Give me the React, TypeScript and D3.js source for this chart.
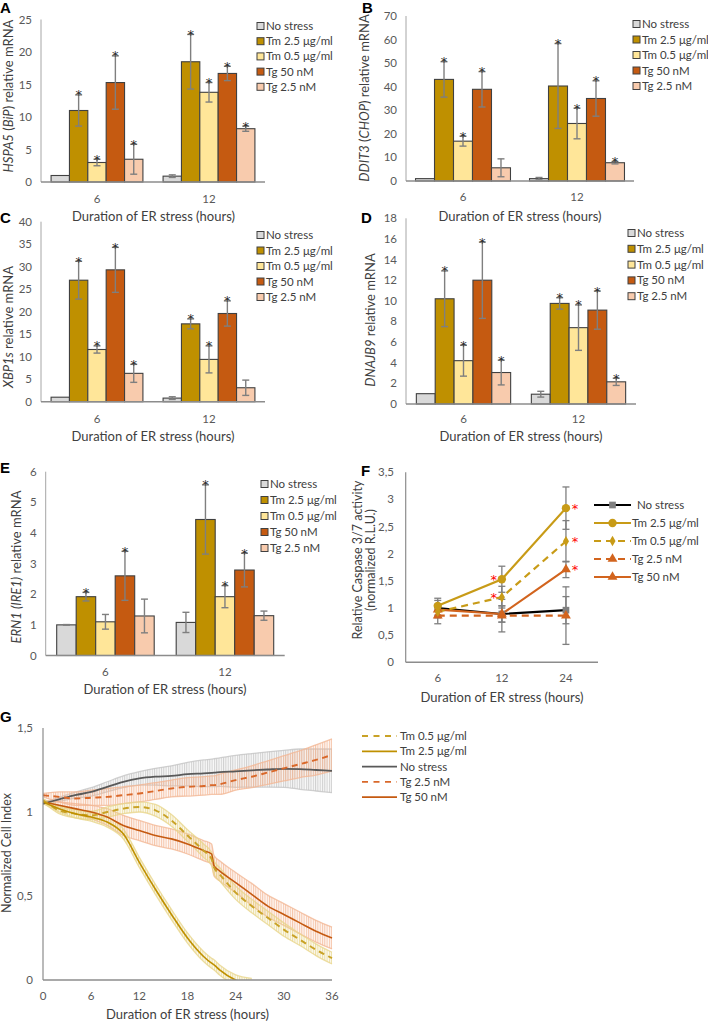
import React from 'react';
import * as d3 from 'd3';

// ---------- data ----------
const categories = ['6', '12'];
const seriesNames = ['No stress', 'Tm 2.5 μg/ml', 'Tm 0.5 μg/ml', 'Tg 50 nM', 'Tg 2.5 nM'];
const barColors = ['#D9D9D9', '#BF9000', '#FFE699', '#C55A11', '#F8CBAD'];

// values per series: [6 h, 12 h]
const aValues = [[1.0, 0.9], [11.0, 18.5], [3.0, 13.8], [15.3, 16.7], [3.5, 8.2]];
const aErrors = [[0, 0.2], [2.4, 4.2], [0.5, 1.5], [4.1, 1.1], [2.3, 0.4]];
const aStars = [[0, 0], [1, 1], [1, 1], [1, 1], [1, 1]];

const bValues = [[1.0, 1.0], [43.1, 40.3], [16.9, 24.4], [38.9, 35.0], [5.6, 7.75]];
const bErrors = [[0, 0.5], [7.5, 18.0], [2.1, 6.5], [7.5, 7.5], [3.8, 0.5]];
const bStars = [[0, 0], [1, 1], [1, 1], [1, 1], [0, 1]];

const cValues = [[1.0, 0.8], [27.0, 17.3], [11.6, 9.4], [29.3, 19.6], [6.3, 3.1]];
const cErrors = [[0, 0.3], [4.2, 1.1], [0.8, 3.0], [5.0, 2.8], [2.0, 1.7]];
const cStars = [[0, 0], [1, 1], [1, 1], [1, 1], [1, 0]];

const dValues = [[1.0, 0.95], [10.2, 9.75], [4.2, 7.4], [12.0, 9.1], [3.05, 2.15]];
const dErrors = [[0, 0.28], [2.7, 0.55], [1.5, 2.2], [3.7, 1.85], [1.2, 0.35]];
const dStars = [[0, 0], [1, 1], [1, 1], [1, 1], [1, 1]];

const eValues = [[1.0, 1.08], [1.92, 4.44], [1.1, 1.92], [2.6, 2.79], [1.29, 1.3]];
const eErrors = [[0.01, 0.33], [0.14, 1.13], [0.24, 0.36], [0.8, 0.55], [0.55, 0.15]];
const eStars = [[0, 0], [1, 1], [0, 1], [1, 1], [0, 0]];

// panel F: caspase activity
const fCategories = ['6', '12', '24'];
const fNames = ['No stress', 'Tm 2.5 μg/ml', 'Tm 0.5 μg/ml', 'Tg 2.5 nM', 'Tg 50 nM'];
const fValues = [[1.0, 0.89, 0.96], [1.04, 1.53, 2.84], [0.93, 1.2, 2.23], [0.86, 0.86, 0.86], [0.97, 0.89, 1.71]];
const fErrors = [[0.18, 0.15, 0.25], [0.1, 0.24, 0.39], [0.08, 0.2, 0.38], [0.15, 0.3, 0.53], [0.1, 0.15, 0.15]];
const fStars = [[0, 0, 0], [0, 1, 1], [0, 1, 1], [0, 0, 0], [0, 0, 1]];

// panel G: cell index
const gTimes = [0, 2, 4, 6, 8, 10, 12, 14, 16, 18, 20, 21, 21.3, 22, 24, 26, 28, 30, 32, 34, 36];
const gNames = ['Tm 0.5 μg/ml', 'Tm 2.5 μg/ml', 'No stress', 'Tg 2.5 nM', 'Tg 50 nM'];
const gTm05 = [1.07, 1.01, 0.99, 0.98, 1.0, 1.02, 1.03, 1.01, 0.95, 0.86, 0.77, 0.72, 0.67, 0.63, 0.52, 0.44, 0.37, 0.3, 0.24, 0.18, 0.13];
const gTm05Err = [0.01, 0.02, 0.025, 0.025, 0.03, 0.03, 0.03, 0.035, 0.035, 0.035, 0.04, 0.04, 0.04, 0.04, 0.04, 0.04, 0.04, 0.04, 0.035, 0.035, 0.035];
const gTm25 = [1.06, 1.02, 0.99, 0.97, 0.94, 0.87, 0.7, 0.54, 0.39, 0.25, 0.14, 0.1, 0.09, 0.06, 0.0, -0.02, null, null, null, null, null];
const gTm25Err = [0.01, 0.02, 0.025, 0.025, 0.03, 0.03, 0.03, 0.03, 0.03, 0.03, 0.03, 0.03, 0.03, 0.03, 0.03, 0.03, 0, 0, 0, 0, 0];
const gNS = [1.05, 1.075, 1.1, 1.12, 1.15, 1.18, 1.2, 1.21, 1.215, 1.225, 1.23, 1.233, 1.234, 1.237, 1.242, 1.248, 1.253, 1.257, 1.255, 1.25, 1.245];
const gNSErr = [0.005, 0.012, 0.018, 0.025, 0.03, 0.035, 0.04, 0.05, 0.06, 0.07, 0.08, 0.082, 0.083, 0.085, 0.095, 0.1, 0.105, 0.11, 0.12, 0.125, 0.13];
const gTg25 = [1.1, 1.09, 1.08, 1.085, 1.09, 1.1, 1.11, 1.125, 1.14, 1.15, 1.155, 1.16, 1.16, 1.165, 1.19, 1.21, 1.235, 1.26, 1.285, 1.31, 1.34];
const gTg25Err = [0.01, 0.03, 0.04, 0.045, 0.05, 0.05, 0.05, 0.05, 0.05, 0.055, 0.055, 0.055, 0.055, 0.06, 0.06, 0.065, 0.07, 0.075, 0.08, 0.09, 0.095];
const gTg50 = [1.06, 1.04, 1.02, 1.0, 0.97, 0.92, 0.89, 0.86, 0.84, 0.81, 0.77, 0.75, 0.68, 0.65, 0.58, 0.51, 0.44, 0.39, 0.34, 0.29, 0.25];
const gTg50Err = [0.01, 0.02, 0.03, 0.04, 0.05, 0.06, 0.06, 0.06, 0.06, 0.06, 0.06, 0.06, 0.06, 0.06, 0.06, 0.065, 0.065, 0.065, 0.065, 0.065, 0.065];
const gXTicks = [0, 6, 12, 18, 24, 30, 36];
const gYTicks = [0, 0.5, 1, 1.5];

// ---------- styles ----------
const FONT = "Lato, 'Open Sans', sans-serif";
const LETTER_FONT = "'Liberation Sans', Arial, sans-serif";
const STAR_FONT = "'DejaVu Sans', sans-serif";
const TXT = '#404040';
const TICK = '#595959';
const ERR = '#7F7F7F';
const GOLD = '#C89B17';
const ORANGE = '#D2641E';
const comma = (v: number) => String(v).replace('.', ',');

function BarPanel(p: any) {
  const x = d3.scaleBand<string>().domain(categories).range([p.x0, p.x1]).paddingInner(p.pad).paddingOuter(p.pad / 2);
  const xs = d3.scaleBand<number>().domain(d3.range(seriesNames.length)).range([0, x.bandwidth()]);
  const y = d3.scaleLinear().domain([0, p.max]).range([p.yBase, p.yTop]);
  const ticks = d3.range(0, p.max + p.step / 2, p.step);
  return (
    <g fontFamily={FONT}>
      <text x={p.letter[1]} y={p.letter[2]} fontFamily={LETTER_FONT} fontWeight="bold" fontSize={15} fill="#000">{p.letter[0]}</text>
      <line x1={p.x0} x2={p.x0} y1={p.yTop} y2={p.yBase} stroke="#A6A6A6" strokeWidth={1} />
      {ticks.map((t: number) => (
        <text key={t} x={p.x0 - 9} y={y(t)} dy="0.35em" textAnchor="end" fontSize={11.5} fill={TICK}>{t}</text>
      ))}
      {p.values.map((sv: number[], si: number) => sv.map((v: number, ci: number) => {
        const bx = (x(categories[ci]) as number) + (xs(si) as number);
        const bw = xs.bandwidth();
        const cx = bx + bw / 2;
        const e = p.errors[si][ci];
        return (
          <g key={si + '-' + ci}>
            <rect x={bx} y={y(v)} width={bw} height={p.yBase - y(v)} fill={barColors[si]} stroke="#404040" strokeWidth={1.1} />
            {e > 0 && (
              <g stroke={ERR} strokeWidth={1.4}>
                <line x1={cx} x2={cx} y1={y(v + e)} y2={y(Math.max(0, v - e))} />
                <line x1={cx - 3.5} x2={cx + 3.5} y1={y(v + e)} y2={y(v + e)} />
                <line x1={cx - 3.5} x2={cx + 3.5} y1={y(Math.max(0, v - e))} y2={y(Math.max(0, v - e))} />
              </g>
            )}
            {p.stars[si][ci] ? (
              <text x={cx} y={y(v + e) + 4.5} textAnchor="middle" fontFamily={STAR_FONT} fontSize={13} fill="#262626">*</text>
            ) : null}
          </g>
        );
      }))}
      <line x1={p.x0} x2={p.x1} y1={p.yBase} y2={p.yBase} stroke="#8C8C8C" strokeWidth={1.5} />
      {categories.map((c) => (
        <text key={c} x={(x(c) as number) + x.bandwidth() / 2} y={p.tickY} textAnchor="middle" fontSize={11.5} fill={TICK}>{c}</text>
      ))}
      <text x={p.titleX} y={p.titleY} textAnchor="middle" fontSize={13} fill={TXT}>Duration of ER stress (hours)</text>
      <text transform={`translate(${p.yLabel[0]},${p.yLabel[1]}) rotate(-90)`} textAnchor="middle" fontSize={13} fill={TXT}>{p.label}</text>
      {seriesNames.map((n, i) => (
        <g key={n} transform={`translate(${p.legend[0]},${p.legend[1] + i * p.legend[2]})`}>
          <rect x={0} y={-3.5} width={7} height={7} fill={barColors[i]} stroke="#404040" strokeWidth={1} />
          <text x={9} y={0} dy="0.35em" fontSize={11.5} fill={TXT}>{n}</text>
        </g>
      ))}
    </g>
  );
}

function markerPath(i: number) {
  const types = [d3.symbolSquare, d3.symbolCircle, d3.symbolDiamond, d3.symbolTriangle, d3.symbolTriangle];
  const sizes = [45, 55, 32, 42, 42];
  return d3.symbol().type(types[i]).size(sizes[i])() as string;
}
const fColors = ['#000000', GOLD, GOLD, ORANGE, ORANGE];
const fMarkerFill = ['#808080', GOLD, GOLD, ORANGE, ORANGE];
const fDash = [null, null, '7,5', '7,5', null];

function PanelF() {
  const x = d3.scalePoint<string>().domain(fCategories).range([405.7, 598]).padding(0.5);
  const y = d3.scaleLinear().domain([0, 3.5]).range([662.3, 472.3]);
  const ticks = d3.range(0, 3.75, 0.5);
  const line = d3.line<number>().x((_, i) => x(fCategories[i]) as number).y((d) => y(d));
  const order = [0, 3, 4, 2, 1];
  return (
    <g fontFamily={FONT}>
      <text x={361} y={476} fontFamily={LETTER_FONT} fontWeight="bold" fontSize={15}>F</text>
      <line x1={405.7} x2={405.7} y1={472.3} y2={662.3} stroke="#8C8C8C" strokeWidth={1.2} />
      <line x1={405.7} x2={598} y1={662.3} y2={662.3} stroke="#8C8C8C" strokeWidth={1.5} />
      {ticks.map((t) => (
        <text key={t} x={394} y={y(t)} dy="0.35em" textAnchor="end" fontSize={11.5} fill={TICK}>{comma(t)}</text>
      ))}
      {fCategories.map((c) => (
        <text key={c} x={x(c) as number} y={682} textAnchor="middle" fontSize={11.5} fill={TICK}>{c}</text>
      ))}
      <text x={502} y={702} textAnchor="middle" fontSize={13} fill={TXT}>Duration of ER stress (hours)</text>
      <text transform="translate(362,560) rotate(-90)" textAnchor="middle" fontSize={12.5} fill={TXT}>Relative Caspase 3/7 activity</text>
      <text transform="translate(375,560) rotate(-90)" textAnchor="middle" fontSize={12.5} fill={TXT}>(normalized R.L.U.)</text>
      {fValues.map((sv, si) => sv.map((v, ci) => {
        const cx = x(fCategories[ci]) as number;
        const e = fErrors[si][ci];
        return (
          <g key={si + '-' + ci} stroke={ERR} strokeWidth={1.3}>
            <line x1={cx} x2={cx} y1={y(v + e)} y2={y(v - e)} />
            <line x1={cx - 3.5} x2={cx + 3.5} y1={y(v + e)} y2={y(v + e)} />
            <line x1={cx - 3.5} x2={cx + 3.5} y1={y(v - e)} y2={y(v - e)} />
          </g>
        );
      }))}
      {order.map((si) => (
        <path key={si} d={line(fValues[si]) as string} fill="none" stroke={fColors[si]} strokeWidth={2.2} strokeDasharray={fDash[si] || undefined} />
      ))}
      {order.map((si) => fValues[si].map((v, ci) => (
        <path key={si + '-' + ci} d={markerPath(si)} transform={`translate(${x(fCategories[ci])},${y(v)})`} fill={fMarkerFill[si]} />
      )))}
      {fValues.map((sv, si) => sv.map((v, ci) => {
        if (!fStars[si][ci]) return null;
        const cx = (x(fCategories[ci]) as number) + (ci === 1 ? -8 : 9);
        return <text key={'s' + si + ci} x={cx} y={y(v) + 5} textAnchor="middle" fontFamily={STAR_FONT} fontSize={13} fill="#FF0000">*</text>;
      }))}
      {fNames.map((n, i) => {
        const yy = 505 + i * 18;
        return (
          <g key={n}>
            <line x1={594} x2={631} y1={yy} y2={yy} stroke={fColors[i]} strokeWidth={2.2} strokeDasharray={fDash[i] || undefined} />
            <path d={markerPath(i)} transform={`translate(612.5,${yy})`} fill={fMarkerFill[i]} />
            <text x={i === 0 ? 637 : 632} y={yy} dy="0.35em" fontSize={11.5} fill={TXT}>{n}</text>
          </g>
        );
      })}
    </g>
  );
}

const gSeries = [
  { v: gTm05, e: gTm05Err, color: '#C9A227', band: '#E9D68C', dash: '6,4.5', w: 1.9 },
  { v: gTm25, e: gTm25Err, color: '#BF9000', band: '#E9D68C', dash: null, w: 1.6 },
  { v: gNS, e: gNSErr, color: '#595959', band: '#C4C4C4', dash: null, w: 1.8 },
  { v: gTg25, e: gTg25Err, color: '#D9682A', band: '#F3B896', dash: '6,4.5', w: 1.9 },
  { v: gTg50, e: gTg50Err, color: '#C55A11', band: '#F3B896', dash: null, w: 1.6 },
];

function PanelG() {
  const x = d3.scaleLinear().domain([0, 36]).range([43, 332]);
  const y = d3.scaleLinear().domain([0, 1.5]).range([980, 728]);
  const drawOrder = [2, 3, 4, 0, 1];
  return (
    <g fontFamily={FONT}>
      <defs>
        <clipPath id="gclip"><rect x={43} y={700} width={292} height={280} /></clipPath>
        {gSeries.map((s, i) => (
          <pattern key={i} id={'hatch' + i} width={2.3} height={4} patternUnits="userSpaceOnUse">
            <rect x={0} y={0} width={1} height={4} fill={s.band} />
          </pattern>
        ))}
      </defs>
      <text x={0} y={722} fontFamily={LETTER_FONT} fontWeight="bold" fontSize={15}>G</text>
      <g clipPath="url(#gclip)">
        {drawOrder.map((si) => {
          const s = gSeries[si];
          const idx = d3.range(gTimes.length).filter((i) => s.v[i] != null);
          const area = d3.area<number>().x((i) => x(gTimes[i])).y0((i) => y((s.v[i] as number) - s.e[i])).y1((i) => y((s.v[i] as number) + s.e[i])).curve(d3.curveMonotoneX);
          const up = d3.line<number>().x((i) => x(gTimes[i])).y((i) => y((s.v[i] as number) + s.e[i])).curve(d3.curveMonotoneX);
          const lo = d3.line<number>().x((i) => x(gTimes[i])).y((i) => y((s.v[i] as number) - s.e[i])).curve(d3.curveMonotoneX);
          return (
            <g key={'b' + si}>
              <path d={area(idx) as string} fill={`url(#hatch${si})`} opacity={0.75} />
              <path d={area(idx) as string} fill={s.band} opacity={0.12} />
              <path d={up(idx) as string} fill="none" stroke={s.band} strokeWidth={1.3} opacity={0.8} />
              <path d={lo(idx) as string} fill="none" stroke={s.band} strokeWidth={1.3} opacity={0.8} />
            </g>
          );
        })}
        {drawOrder.map((si) => {
          const s = gSeries[si];
          const idx = d3.range(gTimes.length).filter((i) => s.v[i] != null);
          const ln = d3.line<number>().x((i) => x(gTimes[i])).y((i) => y(s.v[i] as number)).curve(d3.curveMonotoneX);
          return <path key={'l' + si} d={ln(idx) as string} fill="none" stroke={s.color} strokeWidth={s.w} strokeDasharray={s.dash || undefined} />;
        })}
      </g>
      <line x1={43} x2={43} y1={728} y2={980} stroke="#8C8C8C" strokeWidth={1.2} />
      <line x1={43} x2={332} y1={980} y2={980} stroke="#8C8C8C" strokeWidth={1.5} />
      {gYTicks.map((t) => (
        <text key={t} x={33} y={y(t)} dy="0.35em" textAnchor="end" fontSize={11.5} fill={TICK}>{comma(t)}</text>
      ))}
      {gXTicks.map((t) => (
        <text key={t} x={x(t)} y={1000} textAnchor="middle" fontSize={11.5} fill={TICK}>{t}</text>
      ))}
      <text x={187.5} y={1019} textAnchor="middle" fontSize={13} fill={TXT}>Duration of ER stress (hours)</text>
      <text transform="translate(11,853) rotate(-90)" textAnchor="middle" fontSize={12.5} fill={TXT}>Normalized Cell Index</text>
      {gNames.map((n, i) => {
        const yy = 736 + i * 15.3;
        const s = gSeries[i];
        return (
          <g key={n}>
            <line x1={362} x2={397} y1={yy} y2={yy} stroke={s.color} strokeWidth={1.8} strokeDasharray={s.dash ? '6,5.5' : undefined} />
            <text x={400} y={yy} dy="0.35em" fontSize={11.5} fill={TXT}>{n}</text>
          </g>
        );
      })}
    </g>
  );
}

export default function App() {
  const it = (s: string) => <tspan fontStyle="italic">{s}</tspan>;
  return (
    <svg width={708} height={1022} style={{ position: 'absolute', left: 0, top: 0, background: '#fff' }}>
      <rect width={708} height={1022} fill="#fff" />
      <BarPanel letter={['A', 0, 13]} x0={41} x1={265} yTop={19.5} yBase={182} max={25} step={5} pad={0.18}
        values={aValues} errors={aErrors} stars={aStars} yLabel={[13, 96]} tickY={203} titleX={153.5} titleY={221}
        legend={[257, 26, 15.2]} label={<>{it('HSPA5')} ({it('BiP')}) relative mRNA</>} />
      <BarPanel letter={['B', 362, 13]} x0={406} x1={634} yTop={16} yBase={181} max={70} step={10} pad={0.167}
        values={bValues} errors={bErrors} stars={bStars} yLabel={[369, 98]} tickY={201} titleX={520} titleY={221}
        legend={[633, 24, 15.5]} label={<>{it('DDIT3')} ({it('CHOP')}) relative mRNA</>} />
      <BarPanel letter={['C', 0, 223]} x0={41} x1={265} yTop={221.7} yBase={401.7} max={40} step={5} pad={0.18}
        values={cValues} errors={cErrors} stars={cStars} yLabel={[13, 327]} tickY={423} titleX={153} titleY={441}
        legend={[257, 235, 15.5]} label={<>{it('XBP1s')} relative mRNA</>} />
      <BarPanel letter={['D', 361, 223]} x0={406} x1={636} yTop={218.3} yBase={404} max={18} step={2} pad={0.18}
        values={dValues} errors={dErrors} stars={dStars} yLabel={[375, 320]} tickY={423} titleX={521} titleY={441}
        legend={[628, 233, 15.8]} label={<>{it('DNAJB9')}  relative mRNA</>} />
      <BarPanel letter={['E', 0, 473]} x0={45.7} x1={284.7} yTop={471.7} yBase={655.5} max={6} step={1} pad={0.184}
        values={eValues} errors={eErrors} stars={eStars} yLabel={[21, 567]} tickY={676} titleX={165} titleY={694}
        legend={[261, 484, 16]} label={<>{it('ERN1 (IRE1)')} relative mRNA</>} />
      <PanelF />
      <PanelG />
    </svg>
  );
}
